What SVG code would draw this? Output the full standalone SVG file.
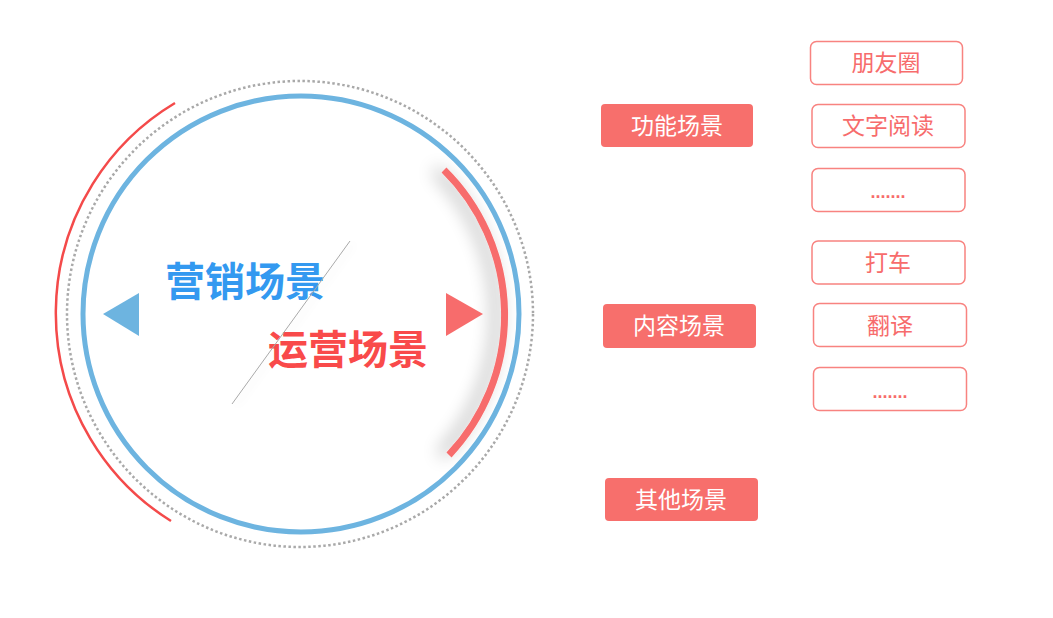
<svg xmlns="http://www.w3.org/2000/svg" width="1053" height="618" viewBox="0 0 1053 618">
<style>
.cjk{font-family:"Noto Sans CJK SC","Noto Sans",sans-serif}
.big{font-size:40px;font-weight:bold}
.fill-box{fill:#f76f6c}
.out-box{fill:#fff;stroke:#f88380;stroke-width:1.5}
.lbl-w{font-size:23px;fill:#fff;text-anchor:middle}
.lbl-r{font-size:23px;fill:#f76c6c;text-anchor:middle}
.dots{font-family:"Liberation Sans",sans-serif;font-size:18px;font-weight:bold;fill:#f76c6c;text-anchor:middle}
</style>
<defs>
<filter id="sh" x="-80%" y="-20%" width="260%" height="140%">
<feGaussianBlur in="SourceAlpha" stdDeviation="9"/>
<feOffset dx="-8" dy="0" result="b"/>
<feComponentTransfer><feFuncA type="linear" slope="0.35"/></feComponentTransfer>
<feMerge><feMergeNode/><feMergeNode in="SourceGraphic"/></feMerge>
</filter>
<filter id="sh2" x="-50%" y="-20%" width="200%" height="140%">
<feGaussianBlur in="SourceAlpha" stdDeviation="5"/>
<feOffset dx="4" dy="2"/>
<feComponentTransfer><feFuncA type="linear" slope="0.15"/></feComponentTransfer>
<feMerge><feMergeNode/><feMergeNode in="SourceGraphic"/></feMerge>
</filter>
</defs>
<rect width="1053" height="618" fill="#fff"/>
<g id="circle">
<circle cx="300" cy="314" r="233" fill="none" stroke="#a9a9a9" stroke-width="2.5" stroke-dasharray="2.5 2.5"/>
<circle cx="301" cy="314" r="218" fill="none" stroke="#6db4e0" stroke-width="5"/>
<path d="M175,103 A245,245 0 0 0 171,521" fill="none" stroke="#f44a4a" stroke-width="2.5"/>
<path d="M444,170 A204,204 0 0 1 449,455" fill="none" stroke="#f76c6c" stroke-width="7" filter="url(#sh)"/>
<polygon points="103,314 139,293 139,336" fill="#6db4e0"/>
<polygon points="483,314 446,293 446,336" fill="#f76c6c"/>
<text class="cjk big" x="165" y="296" fill="#3399f0">营销场景</text>
<text class="cjk big" x="268" y="364" fill="#f94a4a">运营场景</text>
<line x1="350" y1="241" x2="232" y2="404" stroke="#a9a9a9" stroke-width="1" filter="url(#sh2)"/>
</g>
<g id="n-gongneng"><rect class="fill-box" x="601" y="104" width="152" height="43" rx="4"/><text class="cjk lbl-w" x="677" y="134">功能场景</text></g>
<g id="n-neirong"><rect class="fill-box" x="603" y="304" width="153" height="44" rx="4"/><text class="cjk lbl-w" x="679" y="334">内容场景</text></g>
<g id="n-qita"><rect class="fill-box" x="605" y="478" width="153" height="43" rx="4"/><text class="cjk lbl-w" x="681" y="508">其他场景</text></g>
<g id="n-pengyouquan"><rect class="out-box" x="810.5" y="41.5" width="152" height="43" rx="6"/><text class="cjk lbl-r" x="886" y="71">朋友圈</text></g>
<g id="n-wenzi"><rect class="out-box" x="812" y="104.5" width="153" height="43" rx="6"/><text class="cjk lbl-r" x="888" y="134">文字阅读</text></g>
<g id="n-more1"><rect class="out-box" x="812" y="168.5" width="153" height="43" rx="6"/><text class="dots" x="888" y="198">.......</text></g>
<g id="n-dache"><rect class="out-box" x="812" y="241" width="153" height="43" rx="6"/><text class="cjk lbl-r" x="888" y="271">打车</text></g>
<g id="n-fanyi"><rect class="out-box" x="813.5" y="303.5" width="153" height="43" rx="6"/><text class="cjk lbl-r" x="890" y="334">翻译</text></g>
<g id="n-more2"><rect class="out-box" x="813.5" y="367.5" width="153" height="43" rx="6"/><text class="dots" x="890" y="398">.......</text></g>
<g id="connectors"></g>
</svg>
